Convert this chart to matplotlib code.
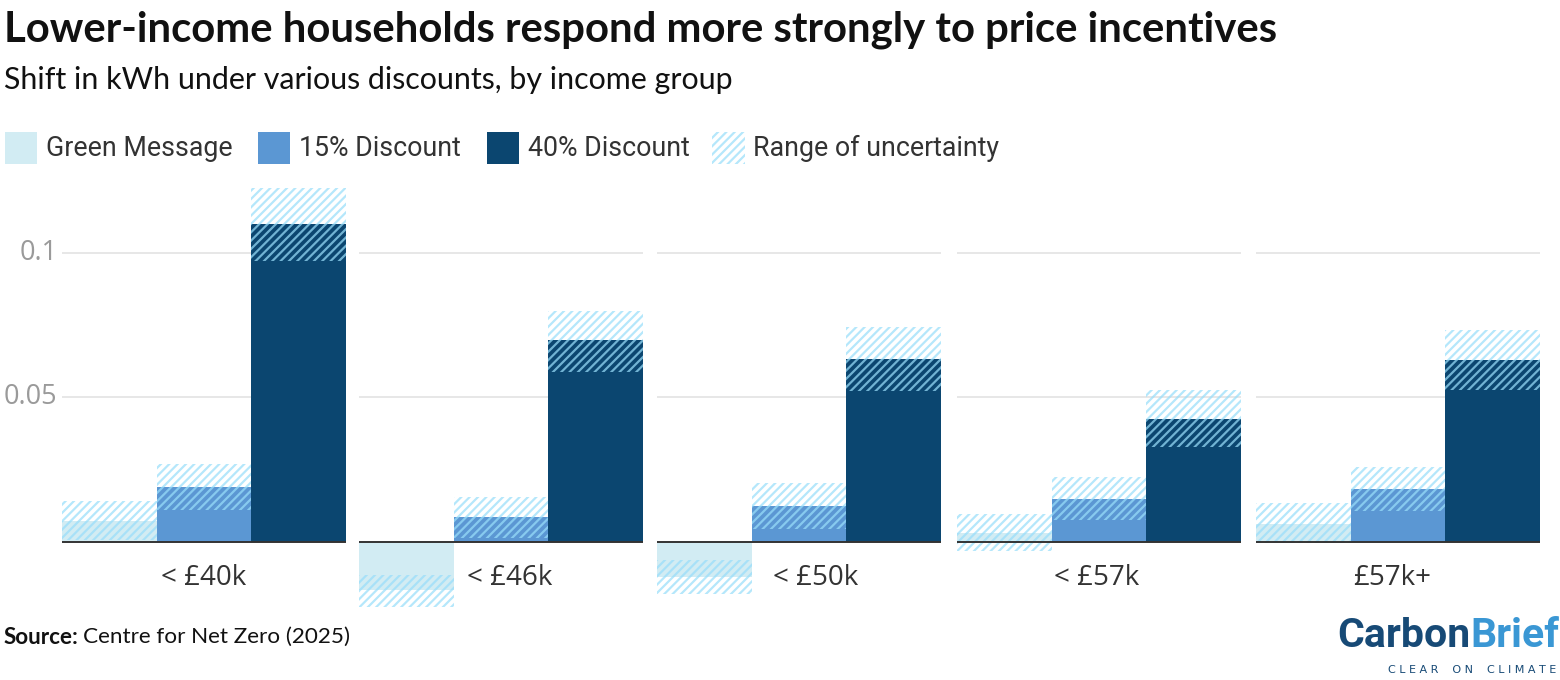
import matplotlib
matplotlib.use("Agg")
import matplotlib.pyplot as plt
from matplotlib.patches import Rectangle

# income groups
groups = ["< £40k", "< £46k", "< £50k", "< £57k", "£57k+"]
series = ["Green Message", "15% Discount", "40% Discount"]

# central estimates (kWh shifted)
green = [0.0073, -0.0167, -0.0121, 0.0030, 0.0062]
disc15 = [0.0191, 0.0084, 0.0124, 0.0149, 0.0183]
disc40 = [0.1100, 0.0697, 0.0632, 0.0426, 0.0630]

# uncertainty ranges
green_lo = [0.0005, -0.0225, -0.0182, -0.0034, -0.0005]
green_hi = [0.0141, -0.0114, -0.0063, 0.0097, 0.0134]
disc15_lo = [0.0110, 0.0014, 0.0043, 0.0074, 0.0105]
disc15_hi = [0.0269, 0.0153, 0.0202, 0.0223, 0.0260]
disc40_lo = [0.0973, 0.0589, 0.0522, 0.0327, 0.0526]
disc40_hi = [0.1225, 0.0800, 0.0743, 0.0527, 0.0733]

yticks = [0.05, 0.1]
ytick_labels = ["0.05", "0.1"]

colors = ["#d2ecf3", "#5b97d3", "#0b4670"]
hatch_rgba = (0.60, 0.87, 0.98, 0.72)
text_col = "#333333"

plt.rcParams["hatch.linewidth"] = 1.6

W, H = 1560, 680
fig = plt.figure(figsize=(W / 100, H / 100), dpi=100)

# panel geometry in pixels
panel_x0 = [62, 359, 657, 957, 1256]
panel_w = 284
ax_top_px = 183.8
ax_h_px = 427.1
ylo, yhi = -0.024, 0.124
label_x = [1.0, 1.09, 1.18, 0.97, 0.94]

values = [green, disc15, disc40]
lows = [green_lo, disc15_lo, disc40_lo]
highs = [green_hi, disc15_hi, disc40_hi]

for g, name in enumerate(groups):
    ax = fig.add_axes([panel_x0[g] / W, (H - ax_top_px - ax_h_px) / H,
                       panel_w / W, ax_h_px / H])
    ax.set_xlim(-0.5, 2.5)
    ax.set_ylim(ylo, yhi)
    for s in range(3):
        ax.bar(s, values[s][g], width=1.0, color=colors[s], linewidth=0, zorder=2)
    for s in range(3):
        lo, hi = lows[s][g], highs[s][g]
        ax.add_patch(Rectangle((s - 0.5, lo), 1.0, hi - lo, facecolor="none",
                               edgecolor=hatch_rgba, hatch="////", linewidth=0,
                               zorder=3))
    ax.axhline(0, color="#333333", linewidth=1.4, zorder=4)
    for t in yticks:
        ax.axhline(t, color="#e5e5e5", linewidth=1.3, zorder=1)
    ax.text(label_x[g], -0.0126, name, ha="center", va="center",
            fontsize=20, color=text_col, family="Open Sans", zorder=5)
    ax.set_xticks([])
    ax.set_yticks([])
    for sp in ax.spines.values():
        sp.set_visible(False)
    ax.patch.set_alpha(0)
    if g == 0:
        for t, lab in zip(yticks, ytick_labels):
            ax.text(-0.55, t, lab, ha="right", va="center", fontsize=19.5,
                    color="#9a9a9a", family="Open Sans")

# title and subtitle
fig.text(4 / W, 1 - 30 / H, "Lower-income households respond more strongly to price incentives",
         fontsize=30.2, fontweight="bold", family="Lato", color="#111111", va="center")
fig.text(4 / W, 1 - 80 / H, "Shift in kWh under various discounts, by income group",
         fontsize=21.9, family="Lato", color="#111111", va="center")

# legend
leg_x = [5, 258, 487, 712]
leg_y = 148
for i, lab in enumerate(series + ["Range of uncertainty"]):
    x0 = leg_x[i]
    if i < 3:
        fig.patches.append(Rectangle((x0 / W, 1 - (leg_y + 16) / H), 32 / W, 32 / H,
                                     transform=fig.transFigure, facecolor=colors[i],
                                     linewidth=0))
    else:
        fig.patches.append(Rectangle((x0 / W, 1 - (leg_y + 16) / H), 33 / W, 32 / H,
                                     transform=fig.transFigure, facecolor="none",
                                     edgecolor=hatch_rgba, hatch="////", linewidth=0))
    fig.text((x0 + 41) / W, 1 - leg_y / H, lab, fontsize=19.3, family="Roboto",
             color=text_col, va="center")

# source
fig.text(4 / W, 1 - 637 / H, "Source:", fontsize=16.2, fontweight="bold",
         family="Lato", color="#111111", va="center")
fig.text(83 / W, 1 - 637 / H, "Centre for Net Zero (2025)", fontsize=16.2,
         family="Lato", color="#111111", va="center")

# logo
renderer = fig.canvas.get_renderer()
carbon = fig.text(1337 / W, 1 - 636 / H, "Carbon", fontsize=29.5, fontweight="bold",
                  family="Roboto", color="#174a76", va="center")
bb = carbon.get_window_extent(renderer)
fig.text(bb.x1 / W, 1 - 636 / H, "Brief", fontsize=29.5, fontweight="bold",
         family="Roboto", color="#3a97d4", va="center")
fig.text(1556 / W, 1 - 670 / H, "C L E A R    O N    C L I M A T E", fontsize=8,
         family="DejaVu Sans", color="#174a76", va="center", ha="right")

fig.savefig("out.png", dpi=100)
